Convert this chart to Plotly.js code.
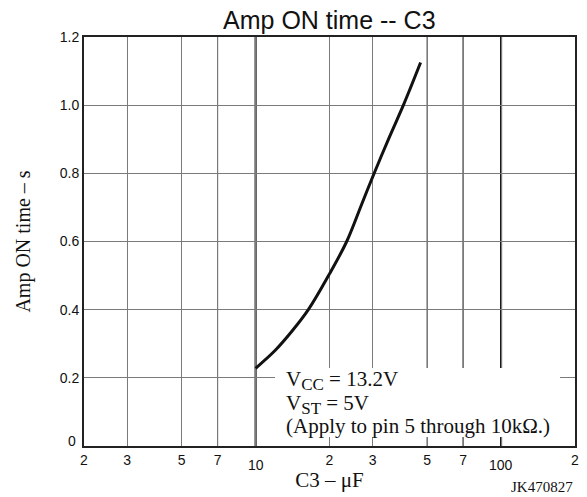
<!DOCTYPE html>
<html>
<head>
<meta charset="utf-8">
<script src="https://cdn.plot.ly/plotly-3.0.1.min.js"></script>
<style>html,body{margin:0;padding:0;background:#fff;}#chart{width:587px;height:497px;}</style>
</head>
<body>
<div id="chart"></div>
<script>
// Data
const capacitance = [10, 12, 14, 16.4, 20, 23.5, 27, 30, 35, 40, 47];                 // C3 (µF)
const ampOnTime   = [0.228, 0.28, 0.335, 0.4, 0.505, 0.6, 0.708, 0.79, 0.905, 1.0, 1.125]; // s

const xTickVals  = [2, 3, 5, 7, 10, 20, 30, 50, 70, 100, 200];
const xTickText  = ["2", "3", "5", "7", "", "2", "3", "5", "7", "", "2"];
const decadeVals = [10, 100];
const decadeText = ["10", "100"];
const darkGridVals = [7, 50, 70];
const yTickVals  = [0, 0.2, 0.4, 0.6, 0.8, 1.0, 1.2];
const yTickText  = ["", "0.2", "0.4", "0.6", "0.8", "1.0", "1.2"];
const conditionLines = [
  "V<sub><span style='font-size:17px'>CC</span></sub> = 13.2V",
  "V<sub><span style='font-size:17px'>ST</span></sub> = 5V",
  "(Apply to pin 5 through 10kΩ.)"
];
const conditionY = [0.159, 0.1003, 0.0489];

const serif = "Liberation Serif, Times New Roman, serif";
const sans = "Liberation Sans, Arial, sans-serif";

const trace = {
  x: capacitance, y: ampOnTime, type: "scatter", mode: "lines",
  line: {color: "#111", width: 3, shape: "spline", smoothing: 1},
  hoverinfo: "skip"
};

const shapes = decadeVals.map(v => ({
  type: "line", xref: "x", yref: "paper", x0: v, x1: v, y0: 0, y1: 1,
  line: {color: "#000", width: 2}, layer: "between"
}));
darkGridVals.forEach(v => shapes.push({
  type: "line", xref: "x", yref: "paper", x0: v, x1: v, y0: 0, y1: 1,
  line: {color: "#222", width: 1.1}, layer: "between"
}));
// white box behind the condition text
shapes.push({type: "rect", xref: "paper", yref: "paper", x0: 0.389, x1: 0.9695, y0: 0.022, y1: 0.191,
  fillcolor: "#fff", line: {width: 0}, layer: "above"});

const annotations = conditionLines.map((t, i) => ({
  xref: "paper", yref: "paper", x: 0.407, y: conditionY[i], xanchor: "left", yanchor: "middle",
  text: t, showarrow: false, font: {family: serif, size: 21, color: "#111"}
}));
decadeVals.forEach((v, i) => annotations.push({
  xref: "x", yref: "paper", x: Math.log10(v), y: 0, xanchor: "center", yanchor: "top", yshift: -9,
  text: decadeText[i], showarrow: false, font: {family: sans, size: 14, color: "#111"}
}));
annotations.push({
  xref: "paper", yref: "paper", x: 0, y: 0, xanchor: "right", yanchor: "middle", xshift: -6, yshift: 5,
  text: "0", showarrow: false, font: {family: sans, size: 14, color: "#111"}
});
annotations.push({
  xref: "paper", yref: "paper", x: 1.0, y: -0.1003, xanchor: "right", yanchor: "middle",
  text: "JK470827", showarrow: false, font: {family: serif, size: 15, color: "#111"}
});

const layout = {
  width: 587, height: 497,
  margin: {l: 84, r: 12, t: 37, b: 51},
  paper_bgcolor: "#fff", plot_bgcolor: "#fff",
  showlegend: false,
  title: {text: "Amp ON time -- C3", font: {family: sans, size: 25, color: "#111"},
          x: 0.561, xanchor: "center", y: 0.96, yanchor: "middle"},
  xaxis: {
    type: "log", range: [Math.log10(2), Math.log10(200)],
    tickvals: xTickVals, ticktext: xTickText, ticks: "",
    tickfont: {family: sans, size: 14, color: "#111"},
    showgrid: true, gridcolor: "#7a7a7a", gridwidth: 1,
    showline: true, linecolor: "#222", linewidth: 2, mirror: true,
    zeroline: false,
    title: {text: "C3 – μF", font: {family: serif, size: 21, color: "#111"}, standoff: 2}
  },
  yaxis: {
    range: [0, 1.2], tickvals: yTickVals, ticktext: yTickText, ticks: "",
    tickfont: {family: sans, size: 14, color: "#111"},
    showgrid: true, gridcolor: "#7a7a7a", gridwidth: 1,
    showline: true, linecolor: "#222", linewidth: 2, mirror: true,
    zeroline: false,
    title: {text: "Amp ON time – s", font: {family: serif, size: 20, color: "#111"}, standoff: 24}
  },
  shapes: shapes,
  annotations: annotations
};

Plotly.newPlot("chart", [trace], layout, {staticPlot: true, displayModeBar: false});
</script>
</body>
</html>
